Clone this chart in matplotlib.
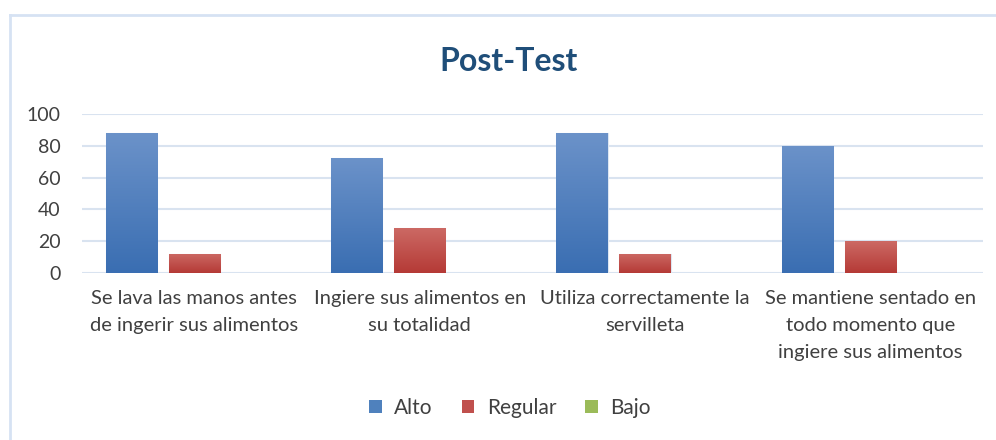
import numpy as np
import matplotlib
matplotlib.use("Agg")
import matplotlib.pyplot as plt
from matplotlib.colors import LinearSegmentedColormap
from matplotlib.lines import Line2D
from matplotlib.patches import Patch

plt.rcParams['font.family'] = ['Lato', 'DejaVu Sans']

categorias = ["Se lava las manos antes\nde ingerir sus alimentos",
              "Ingiere sus alimentos en\nsu totalidad",
              "Utiliza correctamente la\nservilleta",
              "Se mantiene sentado en\ntodo momento que\ningiere sus alimentos"]
alto = [88, 72, 88, 80]
regular = [12, 28, 12, 20]
bajo = [0, 0, 0, 0]
series = ["Alto", "Regular", "Bajo"]

colores = ["#4F81BD", "#C0504D", "#9BBB59"]
degradados = [("#6B92C9", "#3A6EB2"), ("#CC6964", "#B53A36"), ("#AECB74", "#8BAF47")]

fig = plt.figure(figsize=(9.96, 4.4), dpi=100)
ax = fig.add_axes([0.082, 0.3795, 0.905, 0.3615])

x = np.arange(len(categorias))
w = 0.227
off = 0.28
for i, (vals, col, grad) in enumerate(zip([alto, regular, bajo], colores, degradados)):
    bars = ax.bar(x + (i - 1) * off, vals, w, color=col, edgecolor="#dce6f2", linewidth=0.8, zorder=3)
    cmap = LinearSegmentedColormap.from_list("g", [grad[1], grad[0]])
    for b in bars:
        if b.get_height() <= 0:
            continue
        g = np.linspace(0, 1, 100).reshape(-1, 1)
        im = ax.imshow(g, cmap=cmap, origin="lower", aspect="auto", zorder=3.5,
                       extent=[b.get_x(), b.get_x() + b.get_width(), 0, b.get_height()])
        im.set_clip_path(b)

ax.set_xlim(-0.5, len(categorias) - 0.5)
ax.set_ylim(0, 100)
ax.set_yticks(range(0, 101, 20))
ax.yaxis.grid(True, color="#d9e3f0", linewidth=1.5, zorder=0)
for s in ax.spines.values():
    s.set_visible(False)
ax.tick_params(axis="y", length=0, pad=15, labelsize=14, labelcolor="#404040")
ax.tick_params(axis="x", length=0, pad=12, labelsize=14.5, labelcolor="#404040")
ax.set_xticks(x)
ax.set_xticklabels(categorias, linespacing=1.72, va="top")
ax.set_facecolor("none")

fig.text(0.511, 0.86, "Post-Test", ha="center", va="center", fontsize=23,
         fontweight="bold", color="#1F4E79")

handles = [Patch(facecolor=c, edgecolor="none") for c in colores]
fig.legend(handles, series, loc="center", bbox_to_anchor=(0.512, 0.073), ncol=3,
           frameon=False, fontsize=15, handlelength=0.6, handleheight=0.6,
           handletextpad=0.6, columnspacing=1.4, labelcolor="#404040")

# borde del area del grafico
fig.add_artist(Line2D([10 / 996, 10 / 996], [0, 1 - 15 / 440], transform=fig.transFigure,
                      color="#d6e2f3", linewidth=2))
fig.add_artist(Line2D([10 / 996, 1], [1 - 15 / 440, 1 - 15 / 440], transform=fig.transFigure,
                      color="#d6e2f3", linewidth=2))

fig.savefig("out.png", dpi=100)
